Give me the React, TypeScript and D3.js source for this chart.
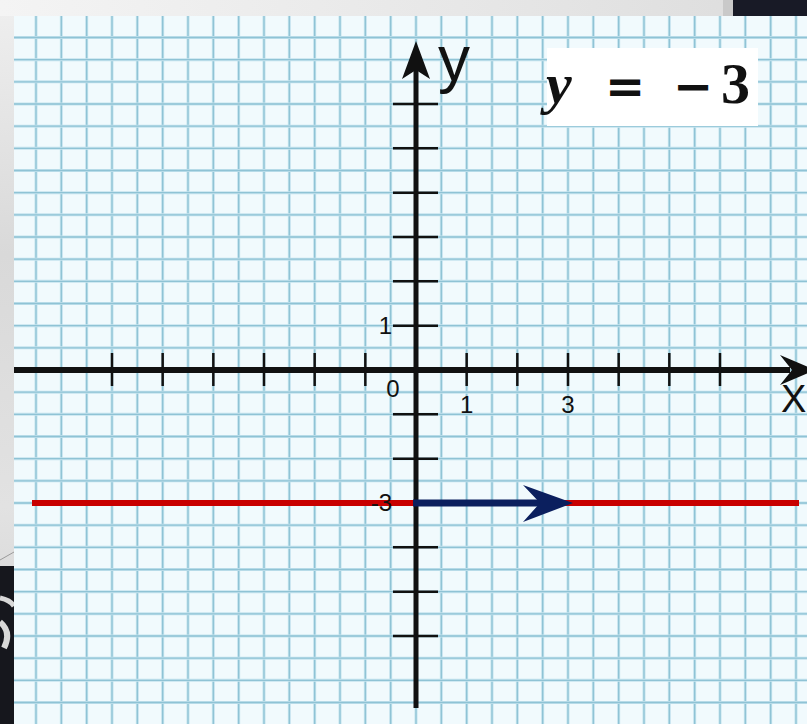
import * as d3 from "d3";

// values
const xTickValues = [-6, -5, -4, -3, -2, -1, 1, 2, 3, 4, 5, 6];
const yTickValues = [-6, -5, -4, -3, -2, -1, 1, 2, 3, 4, 5, 6];
const xTickLabels = [1, 3];
const yTickLabels = [1, -3];
const lineY = -3;
const arrowFrom = [0, lineY];
const arrowTo = [3, lineY];
const formulaParts = ["y", "=", "\u2212", "3"];

export default function App() {
    const width = 807;
    const height = 724;

    // graph paper area
    const paper = { left: 14, top: 16, right: width, bottom: height };

    const xScale = d3.scaleLinear().domain([-6, 6]).range([112, 720]);
    const yScale = d3.scaleLinear().domain([-6, 6]).range([636, 104]);

    const x0 = xScale(0);
    const y0 = yScale(0);

    // half-unit grid lines
    const gridX = d3.range(-16, 17).map((k) => k / 2).filter((v) => {
        const p = xScale(v);
        return p > paper.left + 2 && p < paper.right;
    });
    const gridY = d3.range(-16, 17).map((k) => k / 2).filter((v) => {
        const p = yScale(v);
        return p > paper.top + 2 && p < paper.bottom;
    });

    const font = "'Liberation Sans', Arial, sans-serif";

    const ax = xScale(arrowFrom[0]);
    const ay = yScale(arrowFrom[1]);
    const bx = xScale(arrowTo[0]) + 5;
    const by = yScale(arrowTo[1]);

    return (
        <svg width={width} height={height} style={{ position: "absolute", left: 0, top: 0, display: "block" }}>
            <defs>
                <linearGradient id="topStrip" x1="0" x2="1" y1="0" y2="0">
                    <stop offset="0" stopColor="#f4f4f4" />
                    <stop offset="0.7" stopColor="#e4e4e4" />
                    <stop offset="1" stopColor="#dcdcdc" />
                </linearGradient>
                <linearGradient id="leftStrip" x1="0" x2="0" y1="0" y2="1">
                    <stop offset="0" stopColor="#efefef" />
                    <stop offset="0.35" stopColor="#d9d9d9" />
                    <stop offset="0.7" stopColor="#e2e2e2" />
                    <stop offset="1" stopColor="#cfcfcf" />
                </linearGradient>
                <clipPath id="paperClip">
                    <rect x={paper.left} y={paper.top} width={paper.right - paper.left} height={paper.bottom - paper.top} />
                </clipPath>
            </defs>

            {/* surroundings */}
            <rect x="0" y="0" width={width} height={height} fill="url(#leftStrip)" />
            <rect x="0" y="0" width={width} height={paper.top} fill="url(#topStrip)" />
            <rect x="723" y="0" width="10" height={paper.top} fill="#c9c9c9" />
            <rect x="733" y="0" width={width - 733} height={paper.top} fill="#181a26" />
            <rect x="0" y="566" width={paper.left} height={height - 566} fill="#16171d" />
            <path d="M0,560 L14,552" stroke="#9a9a9a" strokeWidth="1" />
            <path d="M0,598 Q10,600 14,606" stroke="#d8d8d8" strokeWidth="5" fill="none" />
            <path d="M0,622 Q12,632 4,648" stroke="#d8d8d8" strokeWidth="6" fill="none" />

            {/* graph paper */}
            <rect x={paper.left} y={paper.top} width={paper.right - paper.left} height={paper.bottom - paper.top} fill="#f1fafd" />
            <g clipPath="url(#paperClip)">
                {gridX.map((v) => (
                    <g key={`gx-${v}`}>
                        <line x1={xScale(v)} x2={xScale(v)} y1={paper.top} y2={paper.bottom} stroke="#c4e3ee" strokeWidth="3" />
                        <line x1={xScale(v)} x2={xScale(v)} y1={paper.top} y2={paper.bottom} stroke="#8fc3d5" strokeWidth="1.3" />
                    </g>
                ))}
                {gridY.map((v) => (
                    <g key={`gy-${v}`}>
                        <line x1={paper.left} x2={paper.right} y1={yScale(v)} y2={yScale(v)} stroke="#c4e3ee" strokeWidth="3" />
                        <line x1={paper.left} x2={paper.right} y1={yScale(v)} y2={yScale(v)} stroke="#8fc3d5" strokeWidth="1.3" />
                    </g>
                ))}
            </g>

            {/* x axis */}
            <line x1={paper.left} y1={y0} x2={790} y2={y0} stroke="#111" strokeWidth="6" />
            <path d={`M815,${y0} L780,${y0 - 15} L792,${y0} L780,${y0 + 15} Z`} fill="#111" />
            {xTickValues.map((t) => (
                <line key={`xt-${t}`} x1={xScale(t)} x2={xScale(t)} y1={y0 - 17} y2={y0 + 16} stroke="#111" strokeWidth="2.5" />
            ))}

            {/* y axis */}
            <line x1={x0} y1={708} x2={x0} y2={60} stroke="#111" strokeWidth="5" />
            <path d={`M${x0},41 L${x0 + 14},79 L${x0},70 L${x0 - 14},79 Z`} fill="#111" />
            {yTickValues.map((t) => (
                <line key={`yt-${t}`} x1={x0 - 23} x2={x0 + 22} y1={yScale(t)} y2={yScale(t)} stroke="#111" strokeWidth="2.5" />
            ))}

            {/* axis names */}
            <text x={438} y={81} fontFamily={font} fontSize="64" fill="#111">y</text>
            <text x={781} y={412} fontFamily={font} fontSize="38" fill="#111">X</text>

            {/* the line y = -3 */}
            <line x1={32} x2={799} y1={yScale(lineY)} y2={yScale(lineY)} stroke="#c80000" strokeWidth="6" />

            {/* vector arrow */}
            <line x1={ax - 3} y1={ay} x2={bx - 30} y2={by} stroke="#0b1f5e" strokeWidth="7" />
            <path d={`M${bx},${by} L${bx - 50},${by - 18} L${bx - 33},${by} L${bx - 50},${by + 19} Z`} fill="#0b1f5e" />

            {/* tick labels, drawn over the line */}
            <g fontFamily={font} fontSize="24" fill="#111">
                {xTickLabels.map((t) => (
                    <text key={`xl-${t}`} x={xScale(t)} y={y0 + 43} textAnchor="middle">{t}</text>
                ))}
                {yTickLabels.map((t) => (
                    <text key={`yl-${t}`} x={x0 - 24} y={yScale(t) + 8} textAnchor="end">{t}</text>
                ))}
                <text x={x0 - 23} y={y0 + 27} textAnchor="middle">0</text>
            </g>

            {/* formula box */}
            <rect x={547} y={48} width={211} height={78} fill="#ffffff" />
            <text y={103} fontFamily="'Liberation Serif', 'Times New Roman', serif" fontSize="58" fontWeight="bold" fill="#111">
                <tspan x={546} fontStyle="italic">{formulaParts[0]}</tspan>
                <tspan x={605} fontFamily="'DejaVu Sans', sans-serif" fontSize="48">{formulaParts[1]}</tspan>
                <tspan x={673} fontFamily="'DejaVu Sans', sans-serif" fontSize="48">{formulaParts[2]}</tspan>
                <tspan x={721}>{formulaParts[3]}</tspan>
            </text>
        </svg>
    );
}
